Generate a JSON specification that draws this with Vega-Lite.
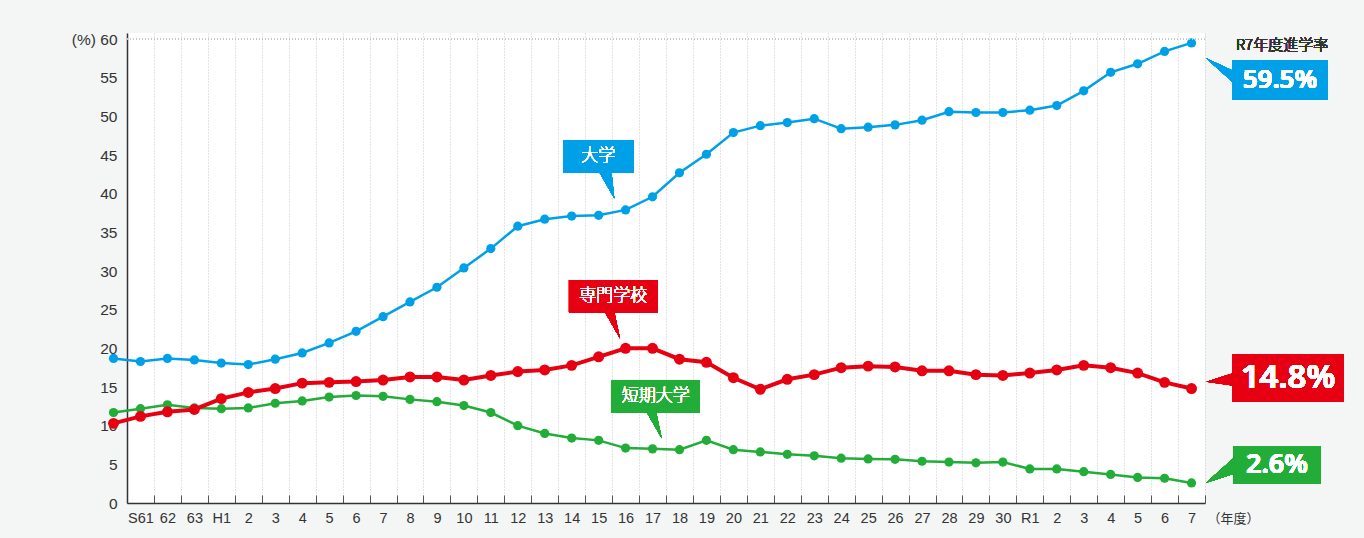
{
  "$schema": "https://vega.github.io/schema/vega-lite/v6.json",
  "width": 1078,
  "height": 470,
  "autosize": {"type": "none"},
  "padding": {"left": 127, "top": 33, "right": 159, "bottom": 35},
  "background": "#f4f6f6",
  "config": {"view": {"fill": "white", "stroke": null}},
  "data": {"values": [
    {"i": 0, "nendo": "S60", "d": 18.7, "s": 10.3, "t": 11.7},
    {"i": 1, "nendo": "S61", "d": 18.3, "s": 11.2, "t": 12.2},
    {"i": 2, "nendo": "S62", "d": 18.7, "s": 11.8, "t": 12.7},
    {"i": 3, "nendo": "S63", "d": 18.5, "s": 12.1, "t": 12.3},
    {"i": 4, "nendo": "H1", "d": 18.1, "s": 13.5, "t": 12.2},
    {"i": 5, "nendo": "H2", "d": 17.9, "s": 14.3, "t": 12.3},
    {"i": 6, "nendo": "H3", "d": 18.6, "s": 14.8, "t": 12.9},
    {"i": 7, "nendo": "H4", "d": 19.4, "s": 15.5, "t": 13.2},
    {"i": 8, "nendo": "H5", "d": 20.7, "s": 15.6, "t": 13.7},
    {"i": 9, "nendo": "H6", "d": 22.2, "s": 15.7, "t": 13.9},
    {"i": 10, "nendo": "H7", "d": 24.1, "s": 15.9, "t": 13.8},
    {"i": 11, "nendo": "H8", "d": 26.0, "s": 16.3, "t": 13.4},
    {"i": 12, "nendo": "H9", "d": 27.9, "s": 16.3, "t": 13.1},
    {"i": 13, "nendo": "H10", "d": 30.4, "s": 15.9, "t": 12.6},
    {"i": 14, "nendo": "H11", "d": 32.9, "s": 16.5, "t": 11.7},
    {"i": 15, "nendo": "H12", "d": 35.8, "s": 17.0, "t": 10.0},
    {"i": 16, "nendo": "H13", "d": 36.7, "s": 17.2, "t": 9.0},
    {"i": 17, "nendo": "H14", "d": 37.1, "s": 17.8, "t": 8.4},
    {"i": 18, "nendo": "H15", "d": 37.2, "s": 18.9, "t": 8.1},
    {"i": 19, "nendo": "H16", "d": 37.9, "s": 20.0, "t": 7.1},
    {"i": 20, "nendo": "H17", "d": 39.6, "s": 20.0, "t": 7.0},
    {"i": 21, "nendo": "H18", "d": 42.7, "s": 18.6, "t": 6.9},
    {"i": 22, "nendo": "H19", "d": 45.1, "s": 18.2, "t": 8.1},
    {"i": 23, "nendo": "H20", "d": 47.9, "s": 16.2, "t": 6.9},
    {"i": 24, "nendo": "H21", "d": 48.8, "s": 14.7, "t": 6.6},
    {"i": 25, "nendo": "H22", "d": 49.2, "s": 16.0, "t": 6.3},
    {"i": 26, "nendo": "H23", "d": 49.7, "s": 16.6, "t": 6.1},
    {"i": 27, "nendo": "H24", "d": 48.4, "s": 17.5, "t": 5.8},
    {"i": 28, "nendo": "H25", "d": 48.6, "s": 17.7, "t": 5.7},
    {"i": 29, "nendo": "H26", "d": 48.9, "s": 17.6, "t": 5.65},
    {"i": 30, "nendo": "H27", "d": 49.5, "s": 17.1, "t": 5.4},
    {"i": 31, "nendo": "H28", "d": 50.6, "s": 17.1, "t": 5.3},
    {"i": 32, "nendo": "H29", "d": 50.5, "s": 16.6, "t": 5.2},
    {"i": 33, "nendo": "H30", "d": 50.5, "s": 16.5, "t": 5.3},
    {"i": 34, "nendo": "R1", "d": 50.8, "s": 16.8, "t": 4.4},
    {"i": 35, "nendo": "R2", "d": 51.4, "s": 17.2, "t": 4.4},
    {"i": 36, "nendo": "R3", "d": 53.3, "s": 17.8, "t": 4.05},
    {"i": 37, "nendo": "R4", "d": 55.7, "s": 17.5, "t": 3.7},
    {"i": 38, "nendo": "R5", "d": 56.8, "s": 16.8, "t": 3.3},
    {"i": 39, "nendo": "R6", "d": 58.4, "s": 15.6, "t": 3.2},
    {"i": 40, "nendo": "R7", "d": 59.5, "s": 14.8, "t": 2.6}
  ]},
  "layer": [
    {
      "mark": {"type": "line", "color": "#00a0e9", "strokeWidth": 2.5,
        "point": {"filled": true, "size": 85, "color": "#00a0e9", "opacity": 1}},
      "encoding": {
        "x": {"field": "i", "type": "quantitative",
          "scale": {"domain": [0.5, 40.5], "nice": false, "zero": false},
          "axis": {
            "values": [0.5,1.5,2.5,3.5,4.5,5.5,6.5,7.5,8.5,9.5,10.5,11.5,12.5,13.5,14.5,15.5,16.5,17.5,18.5,19.5,20.5,21.5,22.5,23.5,24.5,25.5,26.5,27.5,28.5,29.5,30.5,31.5,32.5,33.5,34.5,35.5,36.5,37.5,38.5,39.5,40.5],
            "tickCount": 200,
            "labelExpr": "datum.value > 40 ? '' : ['S61','62','63','H1','2','3','4','5','6','7','8','9','10','11','12','13','14','15','16','17','18','19','20','21','22','23','24','25','26','27','28','29','30','R1','2','3','4','5','6','7'][datum.value - 0.5]",
            "labelOffset": 13.475,
            "labelBound": false, "labelOverlap": false, "labelFlush": false,
            "tickSize": -8, "tickColor": "#555", "tickWidth": 1,
            "domainColor": "#333", "domainWidth": 1.5,
            "grid": true, "gridColor": "#c8c8c8", "gridDash": [1, 2], "gridWidth": 1,
            "labelFont": "Liberation Sans", "labelFontSize": 14.5, "labelColor": "#333", "labelPadding": 16,
            "title": "（年度）", "titleFont": "Noto Sans CJK JP", "titleFontSize": 13, "titleFontWeight": 400,
            "titleColor": "#333", "titleX": 1080, "titleY": 15, "titleAlign": "left", "titleBaseline": "middle", "titleAngle": 0
          }},
        "y": {"field": "d", "type": "quantitative",
          "scale": {"domain": [0, 60.78], "nice": false},
          "axis": {
            "values": [0,5,10,15,20,25,30,35,40,45,50,55,60],
            "tickCount": 200,
            "format": "d",
            "labelExpr": "datum.value == 60 ? '(%) 60' : datum.label",
            "labelOverlap": false,
            "ticks": false, "grid": false,
            "domainColor": "#333", "domainWidth": 1.5,
            "labelFont": "Liberation Sans", "labelFontSize": 15.5, "labelColor": "#333", "labelPadding": 10,
            "title": ""
          }}
      }
    },
    {
      "mark": {"type": "rule", "color": "#c8c8c8", "strokeDash": [1, 2], "strokeWidth": 1},
      "encoding": {
        "y": {"datum": 60, "type": "quantitative", "scale": {"domain": [0, 60.78], "nice": false}}
      }
    },
    {
      "mark": {"type": "line", "color": "#22ac38", "strokeWidth": 2.5,
        "point": {"filled": true, "size": 85, "color": "#22ac38", "opacity": 1}},
      "encoding": {
        "x": {"field": "i", "type": "quantitative", "scale": {"domain": [0.5, 40.5], "nice": false, "zero": false}},
        "y": {"field": "t", "type": "quantitative", "scale": {"domain": [0, 60.78], "nice": false}}
      }
    },
    {
      "mark": {"type": "line", "color": "#e60012", "strokeWidth": 4,
        "point": {"filled": true, "size": 120, "color": "#e60012", "opacity": 1}},
      "encoding": {
        "x": {"field": "i", "type": "quantitative", "scale": {"domain": [0.5, 40.5], "nice": false, "zero": false}},
        "y": {"field": "s", "type": "quantitative", "scale": {"domain": [0, 60.78], "nice": false}}
      }
    },
    {
      "mark": {"type": "rect", "color": "#00a0e9"},
      "encoding": {
        "x": {"datum": 16.69, "type": "quantitative", "scale": {"domain": [0.5, 40.5], "nice": false, "zero": false}},
        "x2": {"datum": 19.29},
        "y": {"datum": 46.94, "type": "quantitative", "scale": {"domain": [0, 60.78], "nice": false}},
        "y2": {"datum": 42.71}
      }
    },
    {
      "mark": {"type": "point", "filled": true, "opacity": 1, "strokeWidth": 0, "size": 4, "color": "#00a0e9", "shape": "M0,0 L-16,-28 L-3,-28 Z"},
      "encoding": {
        "x": {"datum": 18.58, "type": "quantitative", "scale": {"domain": [0.5, 40.5], "nice": false, "zero": false}},
        "y": {"datum": 39.4, "type": "quantitative", "scale": {"domain": [0, 60.78], "nice": false}}
      }
    },
    {
      "mark": {"type": "text", "text": "大学", "color": "white", "font": "Noto Sans CJK JP", "fontSize": 17, "fontWeight": 100, "align": "center", "baseline": "middle"},
      "encoding": {
        "x": {"datum": 17.99, "type": "quantitative", "scale": {"domain": [0.5, 40.5], "nice": false, "zero": false}},
        "y": {"datum": 44.81, "type": "quantitative", "scale": {"domain": [0, 60.78], "nice": false}}
      }
    },
    {
      "mark": {"type": "rect", "color": "#e60012"},
      "encoding": {
        "x": {"datum": 16.9, "type": "quantitative", "scale": {"domain": [0.5, 40.5], "nice": false, "zero": false}},
        "x2": {"datum": 20.19},
        "y": {"datum": 28.84, "type": "quantitative", "scale": {"domain": [0, 60.78], "nice": false}},
        "y2": {"datum": 24.66}
      }
    },
    {
      "mark": {"type": "point", "filled": true, "opacity": 1, "strokeWidth": 0, "size": 4, "color": "#e60012", "shape": "M0,0 L-16,-28 L-6,-28 Z"},
      "encoding": {
        "x": {"datum": 18.79, "type": "quantitative", "scale": {"domain": [0.5, 40.5], "nice": false, "zero": false}},
        "y": {"datum": 21.3, "type": "quantitative", "scale": {"domain": [0, 60.78], "nice": false}}
      }
    },
    {
      "mark": {"type": "text", "text": "専門学校", "color": "white", "font": "Noto Sans CJK JP", "fontSize": 17, "fontWeight": 100, "align": "center", "baseline": "middle"},
      "encoding": {
        "x": {"datum": 18.54, "type": "quantitative", "scale": {"domain": [0.5, 40.5], "nice": false, "zero": false}},
        "y": {"datum": 26.77, "type": "quantitative", "scale": {"domain": [0, 60.78], "nice": false}}
      }
    },
    {
      "mark": {"type": "rect", "color": "#22ac38"},
      "encoding": {
        "x": {"datum": 18.48, "type": "quantitative", "scale": {"domain": [0.5, 40.5], "nice": false, "zero": false}},
        "x2": {"datum": 21.76},
        "y": {"datum": 15.91, "type": "quantitative", "scale": {"domain": [0, 60.78], "nice": false}},
        "y2": {"datum": 11.73}
      }
    },
    {
      "mark": {"type": "point", "filled": true, "opacity": 1, "strokeWidth": 0, "size": 4, "color": "#22ac38", "shape": "M0,0 L-16,-28 L-6,-28 Z"},
      "encoding": {
        "x": {"datum": 20.34, "type": "quantitative", "scale": {"domain": [0.5, 40.5], "nice": false, "zero": false}},
        "y": {"datum": 8.37, "type": "quantitative", "scale": {"domain": [0, 60.78], "nice": false}}
      }
    },
    {
      "mark": {"type": "text", "text": "短期大学", "color": "white", "font": "Noto Sans CJK JP", "fontSize": 17, "fontWeight": 100, "align": "center", "baseline": "middle"},
      "encoding": {
        "x": {"datum": 20.12, "type": "quantitative", "scale": {"domain": [0.5, 40.5], "nice": false, "zero": false}},
        "y": {"datum": 13.84, "type": "quantitative", "scale": {"domain": [0, 60.78], "nice": false}}
      }
    },
    {
      "mark": {"type": "text", "text": "R7年度進学率", "color": "#333", "font": "Noto Sans CJK JP", "fontSize": 15, "fontWeight": 300, "align": "center", "baseline": "middle"},
      "encoding": {
        "x": {"datum": 43.36, "type": "quantitative", "scale": {"domain": [0.5, 40.5], "nice": false, "zero": false}},
        "y": {"datum": 59.23, "type": "quantitative", "scale": {"domain": [0, 60.78], "nice": false}}
      }
    },
    {
      "mark": {"type": "rect", "color": "#00a0e9"},
      "encoding": {
        "x": {"datum": 41.53, "type": "quantitative", "scale": {"domain": [0.5, 40.5], "nice": false, "zero": false}},
        "x2": {"datum": 45.04},
        "y": {"datum": 57.29, "type": "quantitative", "scale": {"domain": [0, 60.78], "nice": false}},
        "y2": {"datum": 52.11}
      }
    },
    {
      "mark": {"type": "point", "filled": true, "opacity": 1, "strokeWidth": 0, "size": 4, "color": "#00a0e9", "shape": "M0,0 L28,13 L28,25 Z"},
      "encoding": {
        "x": {"datum": 40.54, "type": "quantitative", "scale": {"domain": [0.5, 40.5], "nice": false, "zero": false}},
        "y": {"datum": 57.51, "type": "quantitative", "scale": {"domain": [0, 60.78], "nice": false}}
      }
    },
    {
      "mark": {"type": "text", "text": "59.5%", "color": "white", "font": "Noto Sans", "fontSize": 26, "fontWeight": 600, "align": "center", "baseline": "middle"},
      "encoding": {
        "x": {"datum": 43.28, "type": "quantitative", "scale": {"domain": [0.5, 40.5], "nice": false, "zero": false}},
        "y": {"datum": 54.7, "type": "quantitative", "scale": {"domain": [0, 60.78], "nice": false}}
      }
    },
    {
      "mark": {"type": "rect", "color": "#e60012"},
      "encoding": {
        "x": {"datum": 41.53, "type": "quantitative", "scale": {"domain": [0.5, 40.5], "nice": false, "zero": false}},
        "x2": {"datum": 45.63},
        "y": {"datum": 19.23, "type": "quantitative", "scale": {"domain": [0, 60.78], "nice": false}},
        "y2": {"datum": 13.1}
      }
    },
    {
      "mark": {"type": "point", "filled": true, "opacity": 1, "strokeWidth": 0, "size": 4, "color": "#e60012", "shape": "M0,0 L28,-9 L28,4 Z"},
      "encoding": {
        "x": {"datum": 40.56, "type": "quantitative", "scale": {"domain": [0.5, 40.5], "nice": false, "zero": false}},
        "y": {"datum": 15.69, "type": "quantitative", "scale": {"domain": [0, 60.78], "nice": false}}
      }
    },
    {
      "mark": {"type": "text", "text": "14.8%", "color": "white", "font": "Noto Sans", "fontSize": 33, "fontWeight": 600, "align": "center", "baseline": "middle"},
      "encoding": {
        "x": {"datum": 43.58, "type": "quantitative", "scale": {"domain": [0.5, 40.5], "nice": false, "zero": false}},
        "y": {"datum": 16.16, "type": "quantitative", "scale": {"domain": [0, 60.78], "nice": false}}
      }
    },
    {
      "mark": {"type": "rect", "color": "#22ac38"},
      "encoding": {
        "x": {"datum": 41.55, "type": "quantitative", "scale": {"domain": [0.5, 40.5], "nice": false, "zero": false}},
        "x2": {"datum": 44.79},
        "y": {"datum": 7.37, "type": "quantitative", "scale": {"domain": [0, 60.78], "nice": false}},
        "y2": {"datum": 2.46}
      }
    },
    {
      "mark": {"type": "point", "filled": true, "opacity": 1, "strokeWidth": 0, "size": 4, "color": "#22ac38", "shape": "M0,0 L28,-25 L28,-9 Z"},
      "encoding": {
        "x": {"datum": 40.54, "type": "quantitative", "scale": {"domain": [0.5, 40.5], "nice": false, "zero": false}},
        "y": {"datum": 2.63, "type": "quantitative", "scale": {"domain": [0, 60.78], "nice": false}}
      }
    },
    {
      "mark": {"type": "text", "text": "2.6%", "color": "white", "font": "Noto Sans", "fontSize": 27, "fontWeight": 600, "align": "center", "baseline": "middle"},
      "encoding": {
        "x": {"datum": 43.17, "type": "quantitative", "scale": {"domain": [0.5, 40.5], "nice": false, "zero": false}},
        "y": {"datum": 4.91, "type": "quantitative", "scale": {"domain": [0, 60.78], "nice": false}}
      }
    }
  ]
}
